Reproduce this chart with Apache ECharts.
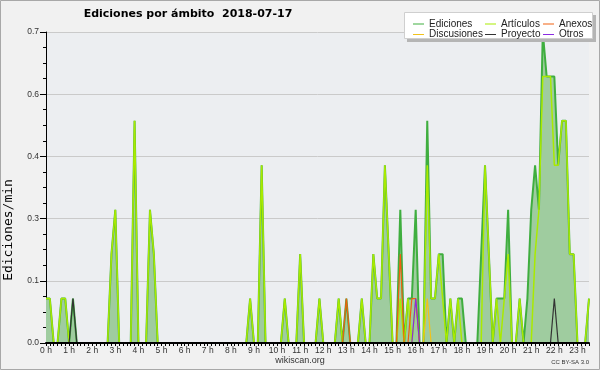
<!DOCTYPE html>
<html><head><meta charset="utf-8">
<script src="https://cdn.jsdelivr.net/npm/echarts@6/dist/echarts.min.js"></script>
<style>html,body{margin:0;padding:0;background:#f1f1f1}#c{width:600px;height:370px}</style>
</head><body><div id="c"></div>
<script>
const chartTitle = 'Ediciones por ámbito  2018-07-17';
const yAxisName = 'Ediciones/min';
const hourLabels = ['0 h','1 h','2 h','3 h','4 h','5 h','6 h','7 h','8 h','9 h','10 h','11 h',
  '12 h','13 h','14 h','15 h','16 h','17 h','18 h','19 h','20 h','21 h','22 h','23 h'];
const yTickLabels = ['0.0','0.1','0.3','0.4','0.6','0.7'];
const seriesNames = ['Ediciones','Artículos','Anexos','Discusiones','Proyecto','Otros'];
// one value per 10-minute slot, 00:00 .. 23:30
const ediciones = [
  .1,.1,0,0,.1,.1,0,.1,0,0,0,0,
  0,0,0,0,0,.2,.3,0,0,0,0,.5,
  0,0,0,.3,.2,0,0,0,0,0,0,0,
  0,0,0,0,0,0,0,0,0,0,0,0,
  0,0,0,0,0,.1,0,0,.4,0,0,0,
  0,0,.1,0,0,0,.2,0,0,0,0,.1,
  0,0,0,0,.1,0,.1,0,0,0,.1,0,
  0,.2,.1,.1,.4,.2,0,0,.3,0,.1,.1,
  .3,0,0,.5,.1,.1,.2,.2,0,.1,0,.1,
  .1,0,0,0,0,.2,.4,.2,0,.1,.1,.1,
  .3,0,0,.1,0,.1,.3,.4,.3,.7,.6,.6,
  .6,.4,.5,.5,.2,.2,0,0,0,.1];
const articulos = [
  .1,.1,0,0,.1,.1,0,0,0,0,0,0,
  0,0,0,0,0,.2,.3,0,0,0,0,.5,
  0,0,0,.3,.2,0,0,0,0,0,0,0,
  0,0,0,0,0,0,0,0,0,0,0,0,
  0,0,0,0,0,.1,0,0,.4,0,0,0,
  0,0,.1,0,0,0,.2,0,0,0,0,.1,
  0,0,0,0,.1,0,0,0,0,0,.1,0,
  0,.2,.1,.1,.4,.2,0,0,.1,0,.1,0,
  .1,0,0,.4,.1,.1,.2,.1,0,.1,0,.1,
  0,0,0,0,0,0,.4,.2,0,.1,0,.1,
  .2,0,0,.1,0,0,0,.2,.3,.6,.6,.6,
  .4,.4,.5,.5,.2,.2,0,0,0,.1];
const anexos = [
  0,0,0,0,0,0,0,0,0,0,0,0,
  0,0,0,0,0,0,0,0,0,0,0,0,
  0,0,0,0,0,0,0,0,0,0,0,0,
  0,0,0,0,0,0,0,0,0,0,0,0,
  0,0,0,0,0,0,0,0,0,0,0,0,
  0,0,0,0,0,0,0,0,0,0,0,0,
  0,0,0,0,0,0,.1,0,0,0,0,0,
  0,0,0,0,0,0,0,0,.2,0,0,.1,
  .1,0,0,0,0,0,0,0,0,0,0,0,
  0,0,0,0,0,0,0,0,0,0,0,0,
  0,0,0,0,0,0,0,0,0,0,0,0,
  0,0,0,0,0,0,0,0,0,0];
const discusiones = [
  0,0,0,0,0,0,0,0,0,0,0,0,
  0,0,0,0,0,0,0,0,0,0,0,0,
  0,0,0,0,0,0,0,0,0,0,0,0,
  0,0,0,0,0,0,0,0,0,0,0,0,
  0,0,0,0,0,0,0,0,0,0,0,0,
  0,0,0,0,0,0,0,0,0,0,0,0,
  0,0,0,0,0,0,0,0,0,0,0,0,
  0,0,0,0,0,0,0,0,0,0,0,0,
  0,0,0,.1,0,0,0,0,0,0,0,0,
  0,0,0,0,0,0,0,0,0,0,0,0,
  0,0,0,0,0,0,0,0,0,0,0,0,
  0,0,0,0,0,0,0,0,0,0];
const proyecto = [
  0,0,0,0,0,0,0,.1,0,0,0,0,
  0,0,0,0,0,0,0,0,0,0,0,0,
  0,0,0,0,0,0,0,0,0,0,0,0,
  0,0,0,0,0,0,0,0,0,0,0,0,
  0,0,0,0,0,0,0,0,0,0,0,0,
  0,0,0,0,0,0,0,0,0,0,0,0,
  0,0,0,0,0,0,0,0,0,0,0,0,
  0,0,0,0,0,0,0,0,0,0,0,0,
  0,0,0,0,0,0,0,0,0,0,0,0,
  0,0,0,0,0,0,0,0,0,0,0,0,
  0,0,0,0,0,0,0,0,0,0,0,0,
  .1,0,0,0,0,0,0,0,0,0];
const otros = [
  0,0,0,0,0,0,0,0,0,0,0,0,
  0,0,0,0,0,0,0,0,0,0,0,0,
  0,0,0,0,0,0,0,0,0,0,0,0,
  0,0,0,0,0,0,0,0,0,0,0,0,
  0,0,0,0,0,0,0,0,0,0,0,0,
  0,0,0,0,0,0,0,0,0,0,0,0,
  0,0,0,0,0,0,0,0,0,0,0,0,
  0,0,0,0,0,0,0,0,0,0,0,0,
  .1,0,0,0,0,0,0,0,0,0,0,0,
  0,0,0,0,0,0,0,0,0,0,0,0,
  0,0,0,0,0,0,0,0,0,0,0,0,
  0,0,0,0,0,0,0,0,0,0];

const colors = {
  'Ediciones':'#3fae3f','Artículos':'#a9ea00','Anexos':'#f06010',
  'Discusiones':'#f2c21a','Proyecto':'#333333','Otros':'#8a2be2'
};
const values = [ediciones, articulos, anexos, discusiones, proyecto, otros];
const toPairs = arr => arr.map((v, i) => [i, v]);

const series = seriesNames.map((name, k) => {
  const s = {
    name, type:'line', data: toPairs(values[k]), symbol:'none', clip:true,
    color: colors[name],
    lineStyle:{ color: colors[name], width: k === 0 ? 2 : (k === 1 ? 1.5 : 1.2) },
    z: 2 + k * 0.1
  };
  if (k === 0) s.areaStyle = { color:'#9fcc9f', opacity:1 };
  return s;
});

const legendBase = {
  orient:'vertical', top:14, itemWidth:11, itemHeight:1, itemGap:0.5, icon:'rect',
  selectedMode:false, z:10,
  textStyle:{ fontFamily:'Liberation Sans', fontSize:10, color:'#222', lineHeight:10 }
};

const chart = echarts.init(document.getElementById('c'));
chart.setOption({
  animation:false,
  backgroundColor:'#f1f1f1',
  grid:{ left:46, right:11, top:32, bottom:27, show:true, backgroundColor:'#eceef1', borderWidth:0 },
  xAxis:{
    type:'value', min:0, max:ediciones.length - 1, interval:1, z:4,
    axisLine:{ show:true, onZero:false, lineStyle:{ color:'#000', width:2 } },
    axisTick:{ show:true, length:3, lineStyle:{ color:'#000' } },
    splitLine:{ show:false },
    axisLabel:{ margin:3, fontFamily:'Liberation Sans', fontSize:8.5, color:'#333',
      formatter: v => (v % 6 === 0 ? hourLabels[v / 6] : '') }
  },
  yAxis:{
    type:'value', min:0, max:0.7, interval:0.14,
    axisLine:{ show:true, lineStyle:{ color:'#000' } },
    axisTick:{ show:true, length:6, lineStyle:{ color:'#000' } },
    minorTick:{ show:true, splitNumber:4, length:3, lineStyle:{ color:'#000' } },
    splitLine:{ show:true, lineStyle:{ color:'#cacaca', width:1 } },
    axisLabel:{ margin:7, fontFamily:'Liberation Sans', fontSize:8.5, color:'#333',
      formatter:(v, i) => yTickLabels[i] }
  },
  legend:[
    Object.assign({}, legendBase, { left:408, data:['Ediciones','Discusiones'] }),
    Object.assign({}, legendBase, { left:480, data:['Artículos','Proyecto'] }),
    Object.assign({}, legendBase, { left:538, data:['Anexos','Otros'] })
  ],
  graphic:[
    { type:'rect', z:5, shape:{ x:407, y:15, width:189, height:27 }, style:{ fill:'#b5b5b5' } },
    { type:'rect', z:6, shape:{ x:404.5, y:12.5, width:188, height:26 }, style:{ fill:'#ffffff', stroke:'#cfcfcf', lineWidth:1 } },
    { type:'text', z:6, x:188, y:14, style:{ text:chartTitle, font:'bold 11px "DejaVu Sans"', fill:'#000', textAlign:'center', textVerticalAlign:'middle' } },
    { type:'text', z:6, x:9, y:230, rotation:Math.PI/2, style:{ text:yAxisName, font:'13px "DejaVu Sans Mono"', fill:'#000', textAlign:'center', textVerticalAlign:'middle' } },
    { type:'text', z:6, x:300, y:361, style:{ text:'wikiscan.org', font:'9px "Liberation Sans"', fill:'#333', textAlign:'center', textVerticalAlign:'middle' } },
    { type:'text', z:6, x:589, y:362.5, style:{ text:'CC BY-SA 3.0', font:'6px "Liberation Sans"', fill:'#333', textAlign:'right', textVerticalAlign:'middle' } },
    { type:'rect', z:7, shape:{ x:0.5, y:0.5, width:599, height:369 }, style:{ fill:'none', stroke:'#a8a8a8', lineWidth:1 } }
  ],
  series
});
</script></body></html>
